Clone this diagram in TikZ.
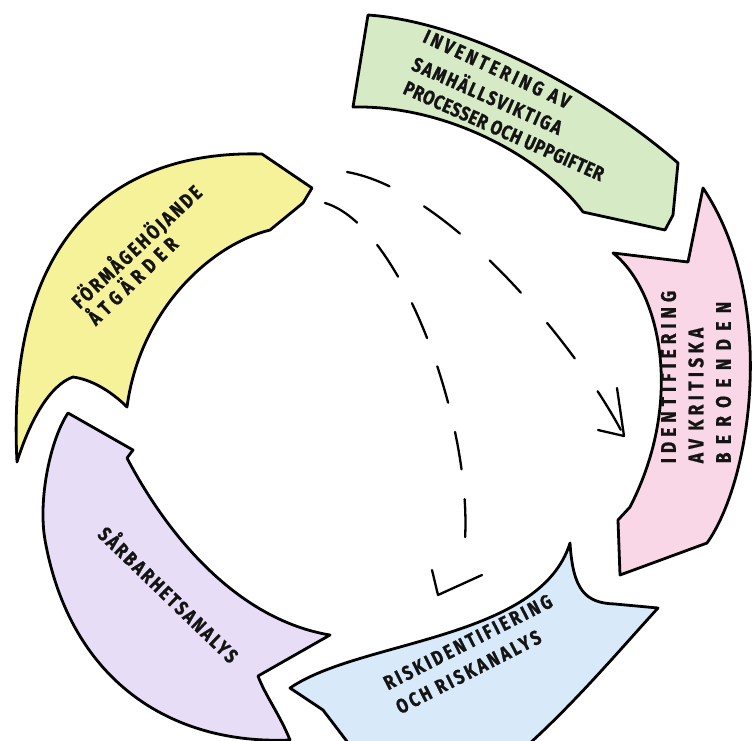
\documentclass[tikz,border=0pt]{standalone}
\usepackage{fontspec}
\newfontfamily\hand{Fira Sans}[FakeStretch=0.82, FakeBold=1]
\definecolor{cgreen}{HTML}{D7EAC6}
\definecolor{cpink}{HTML}{F9D7E6}
\definecolor{cblue}{HTML}{D8E9F9}
\definecolor{cpurple}{HTML}{E8DDF7}
\definecolor{cyellow}{HTML}{F6F29A}
\newcommand{\ls}[1]{\addfontfeature{LetterSpace=#1}}
\tikzset{
  band/.style={draw=black, line width=2.8pt, line join=round, line cap=round},
  lbl/.style={inner sep=0pt, align=left, text=black!92},
  dasharc/.style={draw=black, line width=2.3pt, line cap=round},
  tipline/.style={draw=black, line width=2.3pt, line cap=round, line join=round},
  hfont/.style={font={\hand\bfseries\fontsize{20}{27}\selectfont}},
}
\begin{document}
\begin{tikzpicture}[x=1pt,y=-1pt]
\useasboundingbox (0,0) rectangle (753,740);
\clip (0,0) rectangle (753,740);
% green
\path[band, fill=cgreen] (368,15) .. controls (470,22) and (600,95) .. (678,163)
  -- (673,215) -- (665,230) -- (583,212)
  .. controls (545,160) and (450,105) .. (353,107) -- cycle;
% pink
\path[band, fill=cpink] (703,188) -- (688,262) -- (613,253)
  .. controls (660,290) and (685,400) .. (630,507) -- (618,520) -- (620,575)
  -- (707,543) .. controls (752,480) and (778,300) .. (703,188) -- cycle;
% blue
\path[band, fill=cblue] (290,688) .. controls (360,640) and (540,640) .. (570,543)
  .. controls (573,590) and (585,603) .. (615,604) -- (658,608)
  .. controls (615,655) and (565,715) .. (505,765) -- (365,765) -- (323,710) -- cycle;
% purple
\path[band, fill=cpurple] (68,413) -- (133,450) -- (127,458)
  .. controls (170,540) and (240,620) .. (330,635) -- (258,676)
  .. controls (265,695) and (280,715) .. (290,740)
  .. controls (170,745) and (70,680) .. (45,540)
  .. controls (38,500) and (50,440) .. (68,413) -- cycle;
% yellow
\path[band, fill=cyellow] (312,188) -- (262,154)
  .. controls (120,150) and (5,230) .. (17,462)
  .. controls (30,420) and (50,385) .. (73,377)
  .. controls (95,380) and (115,395) .. (127,407)
  .. controls (140,310) and (210,245) .. (270,230) -- (303,203) -- cycle;
% labels
\node[lbl, hfont, rotate=-25] (tg1) at (497,69) {\ls{16}INVENTERING AV};
\node[lbl, hfont, rotate=-24] (tg2) at (488,94) {\ls{9}SAMHÄLLSVIKTIGA};
\node[lbl, hfont, rotate=-24] (tg3) at (504,131) {\ls{2.5}PROCESSER OCH UPPGIFTER};
\node[lbl, rotate=90, font={\hand\bfseries\fontsize{21}{27.5}\selectfont}] (tpink) at (696,377)
  {{\ls{24}IDENTIFIERING}\\{\ls{21}AV KRITISKA}\\{\ls{40}BEROENDEN}};
\node[lbl, hfont, rotate=27] (tblue) at (474,654) {{\ls{14}RISKIDENTIFIERING}\\{\ls{14}OCH RISKANALYS}};
\node[lbl, hfont, rotate=-44] (tpurple) at (170,593) {\ls{11}SÅRBARHETSANALYS};
\node[lbl, hfont, rotate=43] (ty1) at (136,246) {\ls{12}FÖRMÅGEHÖJANDE};
\node[lbl, hfont, rotate=44] (ty2) at (131,279) {\ls{28}ÅTGÄRDER};
% dashed arcs
\coordinate (a1s) at (347,172);
\coordinate (a1e) at (624,436);
\coordinate (h1a) at (617,388);
\coordinate (h1b) at (598,430);
\draw[dasharc, dash pattern=on 45pt off 40pt] (a1s) .. controls (450,190) and (580,350) .. (a1e);
\draw[tipline] (h1a) -- (a1e) -- (h1b);
\coordinate (a2s) at (325,203);
\coordinate (a2m) at (465,540);
\coordinate (a2e) at (438,595);
\coordinate (h2a) at (432,570);
\coordinate (h2b) at (482,575);
\draw[dasharc, dash pattern=on 38pt off 30pt] (a2s) .. controls (400,225) and (472,420) .. (a2m);
\draw[tipline] (h2a) -- (a2e) -- (h2b);
\end{tikzpicture}
\end{document}
